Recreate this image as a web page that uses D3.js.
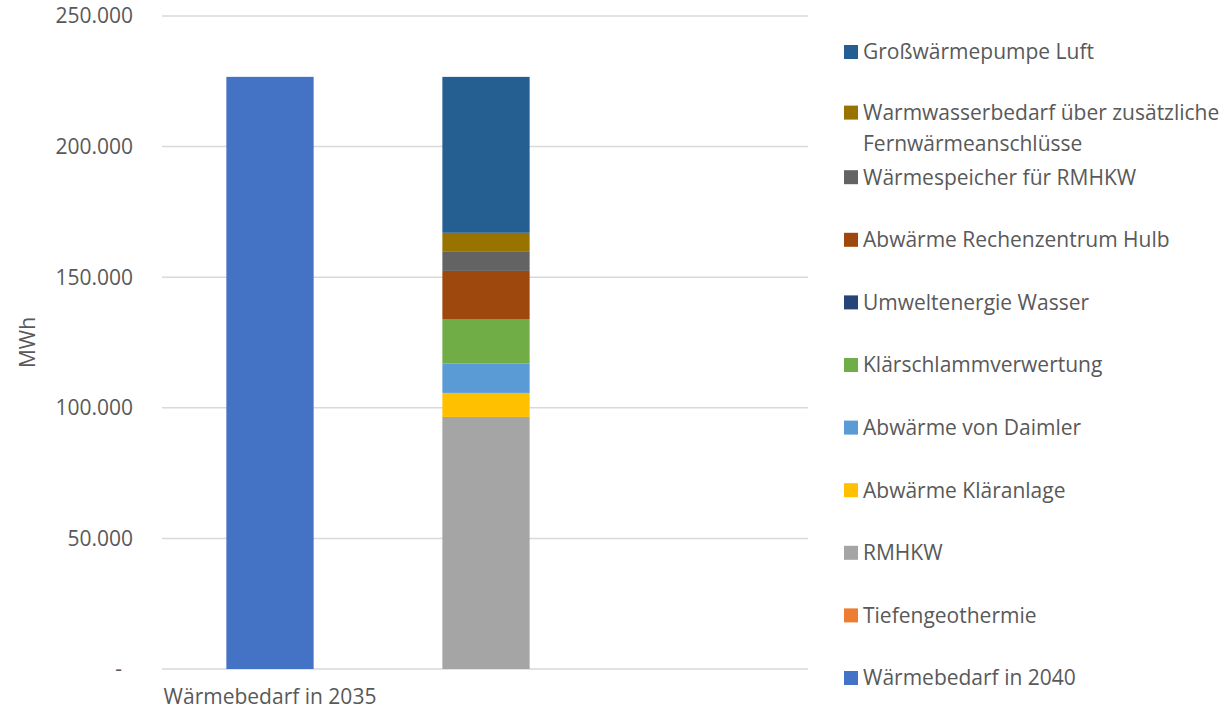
<!DOCTYPE html>
<html>
<head>
<meta charset="utf-8">
<script src="https://cdn.jsdelivr.net/npm/d3@7"></script>
<style>
  html, body { margin: 0; padding: 0; background: #fff; }
  svg { display: block; font-family: "Open Sans", "Noto Sans", sans-serif; }
</style>
</head>
<body>
<svg id="chart" width="1232" height="709"></svg>
<script>
// Categories along the x axis (only the first one is labelled)
const categories = ["Wärmebedarf in 2035", "", " "];

// Series, in stacking order from bottom to top (MWh per category)
const seriesNames = [
  "Wärmebedarf in 2040",
  "Tiefengeothermie",
  "RMHKW",
  "Abwärme Kläranlage",
  "Abwärme von Daimler",
  "Klärschlammverwertung",
  "Umweltenergie Wasser",
  "Abwärme Rechenzentrum Hulb",
  "Wärmespeicher für RMHKW",
  "Warmwasserbedarf über zusätzliche Fernwärmeanschlüsse",
  "Großwärmepumpe Luft"
];
const waermebedarf2040   = [226700, 0, 0];
const tiefengeothermie   = [0, 0, 0];
const rmhkw              = [0, 96500, 0];
const abwaermeKlaeranl   = [0, 9200, 0];
const abwaermeDaimler    = [0, 11200, 0];
const klaerschlamm       = [0, 17100, 0];
const umweltWasser       = [0, 0, 0];
const rechenzentrumHulb  = [0, 18400, 0];
const waermespeicher     = [0, 7300, 0];
const warmwasser         = [0, 7300, 0];
const grosswaermepumpe   = [0, 59700, 0];

const seriesValues = [
  waermebedarf2040, tiefengeothermie, rmhkw, abwaermeKlaeranl, abwaermeDaimler,
  klaerschlamm, umweltWasser, rechenzentrumHulb, waermespeicher, warmwasser, grosswaermepumpe
];
const seriesColors = [
  "#4472C4", "#ED7D31", "#A5A5A5", "#FFC000", "#5B9BD5",
  "#70AD47", "#264478", "#9E480E", "#636363", "#997300", "#255E91"
];

// Legend labels split onto lines
const legendLines = {
  "Warmwasserbedarf über zusätzliche Fernwärmeanschlüsse":
    ["Warmwasserbedarf über zusätzliche", "Fernwärmeanschlüsse"]
};

const yTicks = [0, 50000, 100000, 150000, 200000, 250000];
const yTitle = "MWh";

// Build rows for d3.stack
const rows = categories.map((c, i) => {
  const r = { cat: c };
  seriesNames.forEach((s, k) => { r[s] = seriesValues[k][i]; });
  return r;
});
const stacked = d3.stack().keys(seriesNames)(rows);

const svg = d3.select("#chart");
const textColor = "#595959";
const fontSize = 21;

const plot = { left: 162, right: 810, top: 16, bottom: 669 };

const x = d3.scaleBand()
  .domain(categories)
  .range([plot.left, plot.right])
  .paddingInner(0.596)
  .paddingOuter(0.298);

const y = d3.scaleLinear()
  .domain([0, 250000])
  .range([plot.bottom, plot.top]);

// Gridlines
svg.append("g")
  .selectAll("line")
  .data(yTicks)
  .join("line")
  .attr("x1", plot.left)
  .attr("x2", plot.right - 2)
  .attr("y1", d => y(d))
  .attr("y2", d => y(d))
  .attr("stroke", "#d9d9d9")
  .attr("stroke-width", 1.5);

// Y axis labels
const fmt = d => d === 0 ? "-" : d3.format(",")(d).replace(/,/g, ".");
svg.append("g")
  .selectAll("text")
  .data(yTicks)
  .join("text")
  .attr("x", d => d === 0 ? 122 : 133)
  .attr("y", d => y(d))
  .attr("dy", "0.35em")
  .attr("text-anchor", "end")
  .attr("fill", textColor)
  .attr("font-size", fontSize)
  .text(fmt);

// Y axis title
svg.append("text")
  .attr("transform", `translate(35, ${(plot.top + plot.bottom) / 2}) rotate(-90)`)
  .attr("text-anchor", "middle")
  .attr("fill", textColor)
  .attr("font-size", fontSize)
  .text(yTitle);

// Stacked bars
svg.append("g")
  .selectAll("g")
  .data(stacked)
  .join("g")
  .attr("fill", (d, i) => seriesColors[i])
  .selectAll("rect")
  .data(d => d)
  .join("rect")
  .attr("x", d => x(d.data.cat))
  .attr("width", x.bandwidth())
  .attr("y", d => y(d[1]))
  .attr("height", d => y(d[0]) - y(d[1]));

// Category labels
svg.append("g")
  .selectAll("text")
  .data(categories)
  .join("text")
  .attr("x", d => x(d) + x.bandwidth() / 2)
  .attr("y", 697)
  .attr("dy", "0.35em")
  .attr("text-anchor", "middle")
  .attr("fill", textColor)
  .attr("font-size", fontSize)
  .text(d => d.trim());

// Legend, top to bottom in reverse stacking order
const legendOrder = seriesNames.map((s, i) => ({ name: s, color: seriesColors[i] })).reverse();
const legendTop = 52, legendStep = 62.6;
const lg = svg.append("g")
  .selectAll("g")
  .data(legendOrder)
  .join("g")
  .attr("transform", (d, i) => `translate(844, ${legendTop + i * legendStep})`);

lg.append("rect")
  .attr("x", 0)
  .attr("y", d => legendLines[d.name] ? -7 - 2 : -7)
  .attr("width", 14)
  .attr("height", 14)
  .attr("fill", d => d.color);

lg.each(function (d) {
  const lines = legendLines[d.name] || [d.name];
  const t = d3.select(this).append("text")
    .attr("fill", textColor)
    .attr("font-size", fontSize);
  lines.forEach((ln, j) => {
    t.append("tspan")
      .attr("x", 19)
      .attr("y", (lines.length > 1 ? -2 : 0) + j * 31)
      .attr("dy", "0.35em")
      .text(ln);
  });
});
</script>
</body>
</html>
